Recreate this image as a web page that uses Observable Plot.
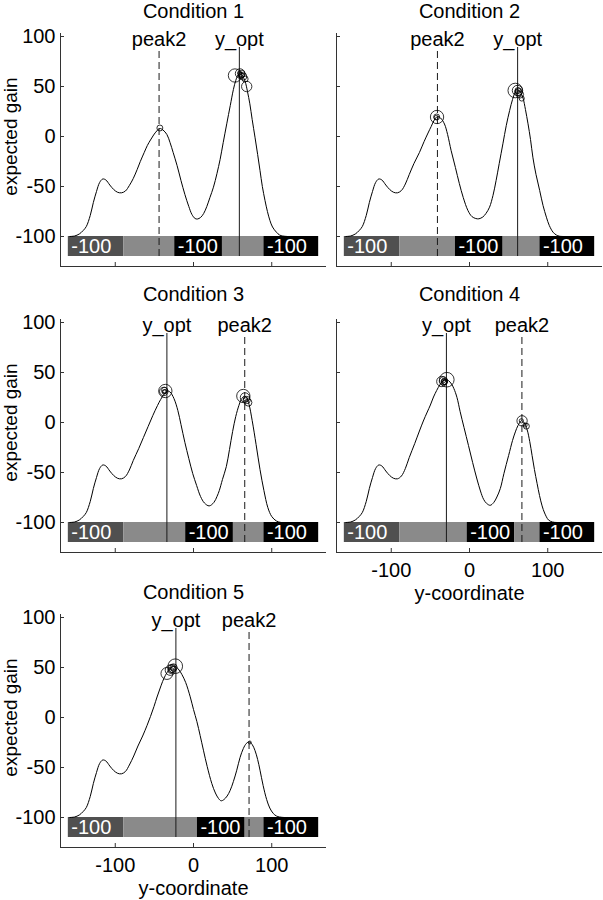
<!DOCTYPE html>
<html><head><meta charset="utf-8">
<script src="https://cdn.jsdelivr.net/npm/d3@7"></script>
<script src="https://cdn.jsdelivr.net/npm/@observablehq/plot@0.6"></script>
<style>
html,body{margin:0;padding:0;background:#fff;}
#wrap{position:relative;width:603px;height:900px;overflow:hidden;background:#fff;}
</style></head><body><div id="wrap"></div>
<script>
// ---------- data ----------
const titles = ["Condition 1", "Condition 2", "Condition 3", "Condition 4", "Condition 5"];
const yOpt   = [58.6, 61.5, -34, -29.5, -22.5];
const peak2  = [-44, -41, 65.5, 67, 71];
const blackStart = [-24, -18, -10, -3, 5];
const blackEnd   = [37, 43, 51, 58, 66];
const barEdges = [-160, -89, 90, 160];
const barTop = -100, barBottom = -120;
const penaltyLabel = "-100";
const markerTop = 89;
const yTicks = [-100, -50, 0, 50, 100];
const xTicks = [-100, 0, 100];
const xDomain = [-170, 170];
const yDomain = [-130, 103];

const curveLeft = [[-158,-100],[-152,-99.5],[-146,-97.5],[-141,-94],[-137,-90],[-132,-79],[-128,-66],[-124,-55],[-120,-46],[-116,-42.5],[-112,-43.5],[-107,-48.5],[-102,-53],[-97,-55.8],[-92,-56.3]];

const curveC1 = curveLeft.concat([[-87,-54.5],[-82,-49],[-77,-42],[-72,-33],[-68,-25],[-63,-16],[-59,-9],[-55,-3.5],[-51,1.5],[-47,5.5],[-43,8],[-39,6.5],[-34,2],[-30,-6],[-26,-16],[-21,-29],[-16,-44],[-11,-58],[-6,-70],[-2,-78],[2,-82],[5,-82.5],[9,-81],[13,-77],[17,-70],[21,-61],[25.5,-50.7],[30,-37],[34,-23],[38,-6],[42.5,12.7],[47,31],[51,47],[54,56],[57,61.5],[60,62.5],[63,60],[66,55],[69,45],[72,32.7],[75,17],[78.6,-0.7],[82,-18],[85,-34],[88,-50],[91.4,-64],[94.5,-75],[97.7,-84],[101,-90.5],[106,-95.7],[110,-98.5],[114,-99.5],[120,-100]]);

const curveC2 = curveLeft.concat([[-87,-54],[-82,-47.5],[-77,-38],[-71,-27],[-64,-16],[-58,-5],[-53,3.5],[-49,10],[-45,16.5],[-41,20],[-37,18.5],[-32,12.5],[-28,2],[-23.5,-14],[-18,-31],[-13,-47],[-8,-61],[-2,-74],[3,-80],[8,-82],[12,-82.3],[17,-80.5],[21,-77],[25.6,-70.7],[30,-59],[34,-44],[38,-27],[42.7,-7.3],[47,11],[51.3,26],[55,37],[58,43.5],[61,46],[64,45.5],[66,43],[68.4,38.5],[71.5,27],[74.8,12.7],[78,-3],[81,-20.7],[85,-38],[89.7,-54],[94,-69],[98.3,-80.7],[102,-89],[106.8,-95.7],[111,-98.5],[115,-99.7],[120,-100]]);

const curveC3 = curveLeft.concat([[-87,-54],[-82,-47.5],[-77,-38],[-70,-26],[-64,-15],[-58,-4],[-52,7],[-46,17],[-42,23],[-38,28],[-34,31.5],[-30,30.5],[-25,24],[-20,12],[-16,-2],[-11,-20],[-6,-36],[-1,-51],[4,-63],[9,-74],[14,-80.5],[20,-83.4],[26,-80],[30,-74],[33,-68],[37,-57],[42,-44],[46,-27],[50,-9],[54,6],[58,17],[61,23],[65,26.5],[68,24.5],[71,18],[75,2],[80,-22],[85,-47],[90,-68],[95,-85],[100,-94],[106,-98.5],[112,-100],[120,-100]]);

const curveC4 = curveLeft.concat([[-87,-53.5],[-82,-46],[-77,-35],[-70,-21],[-64,-8.5],[-59,1.5],[-54,10.5],[-50,17.5],[-46,25.5],[-42,32],[-38,37.5],[-34,41.5],[-31,43],[-27,42],[-23,38.5],[-20,34],[-16,25],[-12,11],[-7,-5],[-1.3,-23],[4,-40],[9.5,-56.5],[14,-68.5],[18,-76.8],[22,-81],[26.5,-82.8],[31,-80],[35,-74.5],[39.4,-66],[44,-51],[50,-33],[55,-18],[58.6,-9.4],[62,-3],[66.3,1.7],[70,-0.5],[73.6,-7],[77,-19],[80,-33],[83,-47],[86.4,-61],[89.5,-73],[92.8,-83.4],[96,-90.5],[101,-97.5],[106,-99.5],[112,-100],[120,-100]]);

const curveC5 = curveLeft.concat([[-87,-54],[-82,-47.5],[-76.4,-38.5],[-71,-28.5],[-65,-18.5],[-59.4,-8],[-55,1],[-50.5,11],[-46.6,20.5],[-43,28.5],[-39.5,36],[-36,42],[-32,47],[-28.5,50],[-25.5,51.3],[-22,50.5],[-18.5,47.5],[-14.8,43],[-10,35],[-4.2,20.7],[0,8],[4.3,-4],[8.5,-18],[12.7,-32.7],[17.5,-49],[23.4,-66],[28,-75.5],[32,-81],[35.3,-83.3],[39,-82],[43,-78.5],[46.8,-73],[51,-64],[55.3,-52.7],[59.5,-40],[63.7,-31],[67.5,-26],[71.3,-24.3],[75,-27],[78.6,-33],[82,-42],[85,-52.7],[89,-68],[93.5,-82],[97.5,-90.5],[102,-96],[106,-98.5],[110,-99.5],[116,-100],[120,-100]]);

// circles: [x, y, count]
const circlesC1 = [[53,61,10],[59.5,63,5],[61.5,62.5,3],[63.5,60,3],[66,57.5,2],[68,50,6],[59,63.5,1],[61,61,2],[60.5,62,1],[-43,8.5,2]];
const circlesC2 = [[58.5,46,12],[61.3,46,6],[62.5,44.5,3],[64.5,42,3],[66.8,38,1.5],[61,45,1],[62,46,2],[-41.5,19.5,10],[-42,19.5,2],[-42.5,19,1]];
const circlesC3 = [[-36,31.5,10],[-38,31,4],[-37,32.3,2],[-36.5,31,1],[-37.5,30.5,1],[63.7,26.5,10],[65.8,25,5],[68,22.5,3],[70,20,3],[66.5,23.5,1]];
const circlesC4 = [[-29,42.8,12],[-35.4,41,6],[-33.3,41.5,4],[-32,41,2],[-33,42,1],[-31.5,40,1],[-32.5,40.5,1.5],[67.2,1.7,6],[66.3,1.7,1],[72.7,-3.7,2],[71,-2.5,1]];
const circlesC5 = [[-23.3,51.3,12],[-34,44,8],[-29.6,47.3,6],[-27.5,49,4],[-25.5,50,3],[-28.7,47,2],[-26,49.5,1],[72,-25,0.5]];

const curves = [curveC1, curveC2, curveC3, curveC4, curveC5];
const circles = [circlesC1, circlesC2, circlesC3, circlesC4, circlesC5];

// ---------- layout ----------
const FW = 266, FH = 233, ML = 60, MT = 33;
const layout = [
  {left:0,   top:0,   mr:4, titleDy:-21.5, yLabels:true,  xLabels:false},
  {left:276, top:0,   mr:1, titleDy:-21.5, yLabels:false, xLabels:false},
  {left:0,   top:286, mr:4, titleDy:-25,   yLabels:true,  xLabels:false},
  {left:276, top:286, mr:1, titleDy:-25,   yLabels:false, xLabels:true},
  {left:0,   top:581, mr:4, titleDy:-22,   yLabels:true,  xLabels:true}
];
const font = '"Liberation Sans", Arial, Helvetica, sans-serif';
const fills = {edge:"#505050", reward:"#8a8a8a", penalty:"#000000"};
const axisColor = "#333";
const wrap = document.getElementById("wrap");

layout.forEach((L, i) => {
  const regions = [
    {x1: barEdges[0], x2: barEdges[1], kind: "edge"},
    {x1: barEdges[1], x2: blackStart[i], kind: "reward"},
    {x1: blackStart[i], x2: blackEnd[i], kind: "penalty"},
    {x1: blackEnd[i], x2: barEdges[2], kind: "reward"},
    {x1: barEdges[2], x2: barEdges[3], kind: "penalty"}
  ].map(d => ({...d, y1: barBottom, y2: barTop}));
  const barLabels = regions.filter(d => d.kind !== "reward")
    .map(d => ({x: d.x1, y: (barTop + barBottom) / 2, t: penaltyLabel}));
  const curve = curves[i].map(([x, y]) => ({x, y}));
  const circ = circles[i].map(([x, y, n]) => ({x, y, n}));
  const optMarker = [{x: yOpt[i], y1: barBottom, y2: markerTop, label: "y_opt"}];
  const p2Marker = [{x: peak2[i], y1: barBottom, y2: markerTop, label: "peak2"}];
  const mb = L.xLabels ? 53 : 6;

  const marks = [
    Plot.rect(regions, {x1: "x1", x2: "x2", y1: "y1", y2: "y2", fill: d => fills[d.kind]}),
    Plot.text(barLabels, {x: "x", y: "y", text: "t", fill: "white", textAnchor: "start", dx: 3, lineAnchor: "middle", fontSize: 20}),
    Plot.line(curve, {x: "x", y: "y", stroke: "#000", strokeWidth: 1, curve: "catmull-rom"}),
    Plot.ruleX(optMarker, {x: "x", y1: "y1", y2: "y2", stroke: "#1a1a1a", strokeWidth: 1}),
    Plot.ruleX(p2Marker, {x: "x", y1: "y1", y2: "y2", stroke: "#1a1a1a", strokeWidth: 1, strokeDasharray: "7,4"}),
    Plot.text(optMarker.concat(p2Marker), {x: "x", y: "y2", text: "label", dy: -8, lineAnchor: "middle", fontSize: 20}),
    Plot.dot(circ, {x: "x", y: "y", r: "n", stroke: "#000", strokeWidth: 0.8, fill: "none"}),
    Plot.ruleX([xDomain[0]], {stroke: axisColor}),
    Plot.ruleY([yDomain[0]], {stroke: axisColor}),
    Plot.tickY(yTicks, {y: d => d, insetRight: FW - 4, stroke: axisColor}),
    Plot.tickX(xTicks, {x: d => d, insetTop: FH - 4, stroke: axisColor}),
    Plot.text([titles[i]], {text: d => d, frameAnchor: "top", dy: L.titleDy, lineAnchor: "middle", fontSize: 20})
  ];
  if (L.yLabels) {
    marks.push(Plot.axisY(yTicks, {tickSize: 0, tickPadding: 5, tickFormat: d => String(d), label: null, fontSize: 20}));
    marks.push(Plot.text([{x: xDomain[0], y: 0, t: "expected gain"}], {x: "x", y: "y", text: "t", rotate: -90, dx: -50, lineAnchor: "middle", textAnchor: "middle", fontSize: 19}));
  }
  if (L.xLabels) {
    marks.push(Plot.axisX(xTicks, {tickSize: 0, tickPadding: 10, tickFormat: d => String(d), label: null, fontSize: 20}));
    marks.push(Plot.text(["y-coordinate"], {text: d => d, frameAnchor: "bottom", dy: 41, lineAnchor: "middle", fontSize: 20}));
  }

  const svg = Plot.plot({
    width: ML + FW + L.mr,
    height: MT + FH + mb,
    marginLeft: ML, marginRight: L.mr, marginTop: MT, marginBottom: mb,
    x: {domain: xDomain, axis: L.xLabels ? undefined : null},
    y: {domain: yDomain, axis: L.yLabels ? undefined : null},
    r: {type: "sqrt", domain: [0, 12], range: [0, 7.3]},
    style: {fontFamily: font, fontSize: "20px", color: "#000", background: "transparent", overflow: "visible"},
    marks
  });
  svg.style.position = "absolute";
  svg.style.left = L.left + "px";
  svg.style.top = L.top + "px";
  wrap.appendChild(svg);
});
</script>
</body></html>
